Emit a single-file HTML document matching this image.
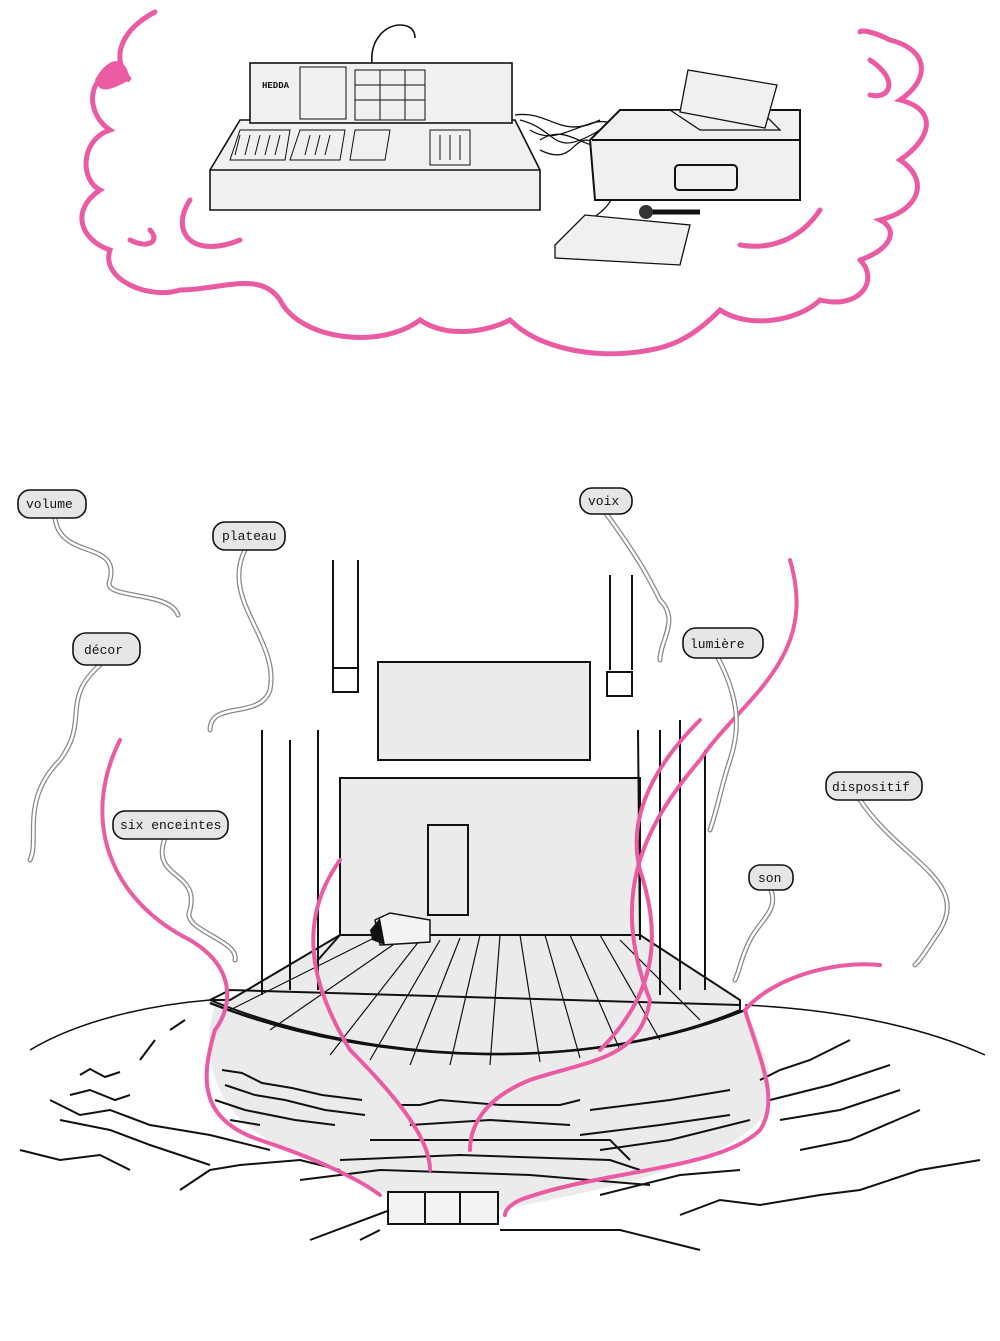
<!DOCTYPE html>
<html><head><meta charset="utf-8"><style>
html,body{margin:0;padding:0;background:#fff}
svg{display:block}
text{font-family:"Liberation Mono",monospace;font-size:13px;fill:#111}
</style></head><body>
<svg width="1000" height="1341" viewBox="0 0 1000 1341" xmlns="http://www.w3.org/2000/svg">
<rect width="1000" height="1341" fill="#fff"/>
<!-- pink cloud -->
<g fill="none" stroke="#ea5ba3" stroke-width="5" stroke-linecap="round">
<path d="M155 12 C120 30 110 60 130 80 C90 60 80 110 110 130 C80 140 80 180 100 190 C70 210 80 240 110 250 C100 280 150 300 180 290 C220 290 260 270 280 300 C300 340 380 350 420 320 C450 340 490 330 510 320 C540 350 600 360 650 350 C680 345 700 330 720 310 C750 330 800 320 820 300 C860 310 880 280 860 260"/>
<path d="M860 260 C890 250 900 230 880 220 C920 210 930 180 900 160 C930 140 940 110 900 100 C930 80 930 50 890 40 C870 30 860 30 860 32"/>
<path d="M190 200 C170 230 190 260 240 240"/>
<path d="M130 240 C150 250 160 240 150 230"/>
<path d="M740 245 C770 250 800 240 820 210"/>
<path d="M870 60 C900 80 890 100 870 95"/>
</g>
<path d="M95 80 C105 60 125 50 130 80 C110 90 100 95 95 80Z" fill="#ea5ba3"/>
<!-- console -->
<g fill="#f0f0f0" stroke="#111" stroke-width="1.6">
<path d="M210 170 L240 120 L515 120 L540 170 L540 210 L210 210Z"/>
<path d="M210 170 L540 170"/>
<rect x="250" y="63" width="262" height="60"/>
<path d="M372 63 C370 40 385 25 400 25 C410 25 415 30 415 38" fill="none"/>
</g>
<text x="262" y="88" style="font-size:9px;font-weight:bold">HEDDA</text>
<g stroke="#111" stroke-width="1" fill="none">
<rect x="300" y="67" width="46" height="52"/><rect x="355" y="70" width="70" height="50"/>
<path d="M355 85 h70 M355 100 h70 M380 70 v50 M405 70 v50"/>
<path d="M240 130 L290 130 L285 160 L230 160Z M300 130 L345 130 L340 160 L290 160Z M355 130 L390 130 L385 160 L350 160Z M430 130 L470 130 L470 165 L430 165Z"/>
<path d="M240 135 l-5 20 M250 135 l-5 20 M260 135 l-5 20 M270 135 l-5 20 M280 135 l-5 20 M310 135 l-5 20 M320 135 l-5 20 M330 135 l-5 20 M440 135 v25 M450 135 v25 M460 135 v25"/>
</g>
<!-- cables -->
<g stroke="#111" stroke-width="1.3" fill="none">
<path d="M515 115 C550 110 560 140 600 120"/><path d="M520 120 C560 130 550 160 600 130"/><path d="M540 140 C570 120 590 160 610 140"/><path d="M540 150 C580 170 570 120 605 150"/><path d="M530 130 C560 150 590 110 615 125"/>
<path d="M610 160 C615 190 620 200 590 220"/>
</g>
<!-- rack -->
<g fill="#f0f0f0" stroke="#111" stroke-width="2">
<path d="M590 140 L620 110 L800 110 L800 200 L595 200Z"/>
<path d="M592 140 L800 140"/>
<rect x="675" y="165" width="62" height="25" rx="4"/>
<path d="M670 110 L700 130 L780 130 L760 110Z" stroke-width="1.3"/>
<path d="M688 70 L777 85 L765 128 L680 112Z" stroke-width="1.3"/>
<path d="M555 245 L585 215 L690 225 L680 265 L555 258Z" stroke-width="1.3"/>
</g>
<path d="M640 212 L700 212" stroke="#111" stroke-width="5"/><circle cx="646" cy="212" r="7" fill="#333"/>
<!-- stage gray areas -->
<g fill="#ebebeb" stroke="#111" stroke-width="2">
<rect x="378" y="662" width="212" height="98"/>
<path d="M340 778 L640 778 L640 935 L340 935Z"/>
<path d="M230 1000 L340 935 L640 935 L740 1000 L740 1010 C600 1070 380 1070 210 1000Z"/>
</g>
<path d="M215 1005 C200 1050 210 1120 290 1150 L350 1180 L390 1195 L500 1210 C600 1190 700 1170 750 1130 C790 1100 760 1040 745 1010 C600 1070 380 1070 215 1005Z" fill="#ebebeb"/>
<path d="M210 1000 L230 990 L740 1005" fill="none" stroke="#111" stroke-width="2"/>
<path d="M210 1003 C380 1070 600 1070 745 1010" fill="none" stroke="#111" stroke-width="2.5"/>
<path d="M30 1050 C80 1020 150 1005 210 1000 M745 1005 C850 1010 930 1030 985 1055" fill="none" stroke="#111" stroke-width="1.5"/>
<g stroke="#111" stroke-width="1.2" fill="none">
<path d="M380 935 L230 1010 M400 940 L270 1030 M420 940 L330 1055 M440 940 L370 1060 M460 938 L410 1065 M480 935 L450 1065 M500 935 L490 1065 M520 935 L540 1062 M545 935 L580 1058 M570 935 L620 1050 M600 935 L660 1040 M620 940 L700 1020"/>
</g>
<rect x="428" y="825" width="40" height="90" fill="none" stroke="#111" stroke-width="2"/>
<path d="M375 920 L390 913 L430 920 L430 942 L380 945Z" fill="#f3f3f3" stroke="#111" stroke-width="1.5"/>
<path d="M370 930 L380 918 L385 945 L372 940Z" fill="#111"/>
<!-- poles -->
<g stroke="#111" stroke-width="2" fill="none">
<path d="M333 560 L333 668 M358 560 L358 668 M610 575 L610 670 M632 575 L632 670"/>
<rect x="333" y="668" width="25" height="24"/><rect x="607" y="672" width="25" height="24"/>
<path d="M262 730 L262 995 M290 740 L290 990 M318 730 L318 990 M660 730 L660 995 M680 720 L680 990 M705 750 L705 990 M638 730 L640 940"/>
<path d="M318 960 L340 935"/>
</g>
<!-- seats -->
<g stroke="#111" stroke-width="2" fill="none">
<path d="M222 1070 l20 3 l20 10 l30 5 l30 7 l40 5 M225 1085 l30 10 l30 5 l40 10 l40 5 M215 1100 l30 10 l50 10 l40 5 M230 1120 l30 5"/>
<path d="M80 1075 l10 -6 l15 8 l15 -5 M70 1095 l20 -5 l25 10 l15 -5 M50 1100 l30 15 l30 -5 l40 15 l60 10 l60 15 M60 1120 l50 10 l40 15 l60 20 M20 1150 l40 10 l40 -5 l30 15 M180 1190 l30 -20 l30 -5 l60 -5 l40 10 M140 1060 l15 -20 M170 1030 l15 -10"/>
<path d="M400 1105 l20 0 l20 -5 l60 5 l60 0 l20 -5 M410 1125 l80 -5 l80 5 M340 1160 l120 -5 l150 5 l30 10 M300 1180 l80 -10 l150 5 l120 10 M370 1140 l240 0 l20 20"/>
<path d="M590 1110 l80 -10 l60 -10 M580 1135 l80 -10 l70 -10 M600 1150 l70 -10 l80 -20 M760 1080 l20 -10 l30 -10 l40 -20 M770 1100 l60 -15 l60 -20 M780 1120 l60 -10 l60 -20 M800 1150 l50 -10 l70 -30 M680 1215 l40 -15 l40 5 l60 -10 l40 -5 l60 -20 l60 -10 M600 1195 l80 -20 l60 -5"/>
<path d="M310 1240 l80 -30 M500 1230 l120 0 l80 20 M360 1240 l20 -10"/>
</g>
<rect x="388" y="1192" width="110" height="32" fill="#f3f3f3" stroke="#111" stroke-width="2"/>
<path d="M425 1192 v32 M460 1192 v32" stroke="#111" stroke-width="2"/>
<!-- pink flows -->
<g fill="none" stroke="#ea5ba3" stroke-width="4" stroke-linecap="round">
<path d="M120 740 C80 820 110 900 190 940 C240 970 230 1010 215 1030 C200 1080 200 1120 260 1140 C320 1160 360 1180 380 1195"/>
<path d="M340 860 C290 930 320 1000 350 1050 C400 1100 430 1140 430 1170"/>
<path d="M790 560 C820 660 740 700 700 760 C640 830 610 900 650 1000 C640 1060 590 1060 530 1080 C480 1100 470 1130 470 1150"/>
<path d="M700 720 C640 780 630 830 640 870 C660 930 660 990 600 1050"/>
<path d="M880 965 C830 960 770 980 745 1010 C760 1060 780 1100 760 1130 C720 1170 600 1170 520 1200 C510 1205 505 1210 505 1215"/>
</g>
<!-- speech bubbles -->
<g fill="none" stroke="#888" stroke-width="5" stroke-linecap="round"><g id="tails">
<path d="M55 518 C60 560 120 540 110 580 C100 600 170 590 178 615"/>
<path d="M245 550 C220 600 280 640 270 690 C260 720 210 700 210 730"/>
<path d="M605 512 C640 560 650 580 660 600 C680 620 660 640 660 660"/>
<path d="M100 665 C60 700 90 720 60 760 C20 800 40 840 30 860"/>
<path d="M718 658 C740 700 740 730 730 760 C720 790 720 800 710 830"/>
<path d="M165 838 C150 880 200 870 190 910 C180 930 240 940 235 960"/>
<path d="M860 800 C900 860 970 880 940 930 C920 960 920 960 915 965"/>
<path d="M770 888 C780 910 760 920 750 940 C740 960 740 970 735 980"/>
</g></g>
<g fill="none" stroke="#fff" stroke-width="2.5" stroke-linecap="round"><use href="#tails"/></g>
<g fill="#e6e6e6" stroke="#111" stroke-width="1.6">
<rect x="18" y="490" width="68" height="28" rx="12"/>
<rect x="213" y="522" width="72" height="28" rx="12"/>
<rect x="580" y="488" width="52" height="26" rx="12"/>
<rect x="73" y="633" width="67" height="32" rx="13"/>
<rect x="683" y="628" width="80" height="30" rx="13"/>
<rect x="113" y="811" width="115" height="28" rx="12"/>
<rect x="826" y="772" width="96" height="28" rx="12"/>
<rect x="749" y="865" width="44" height="25" rx="11"/>
</g>
<text x="26" y="508">volume</text>
<text x="222" y="540">plateau</text>
<text x="588" y="505">voix</text>
<text x="84" y="654">décor</text>
<text x="690" y="648">lumière</text>
<text x="120" y="829">six enceintes</text>
<text x="832" y="791">dispositif</text>
<text x="758" y="882">son</text>
</svg>
</body></html>
